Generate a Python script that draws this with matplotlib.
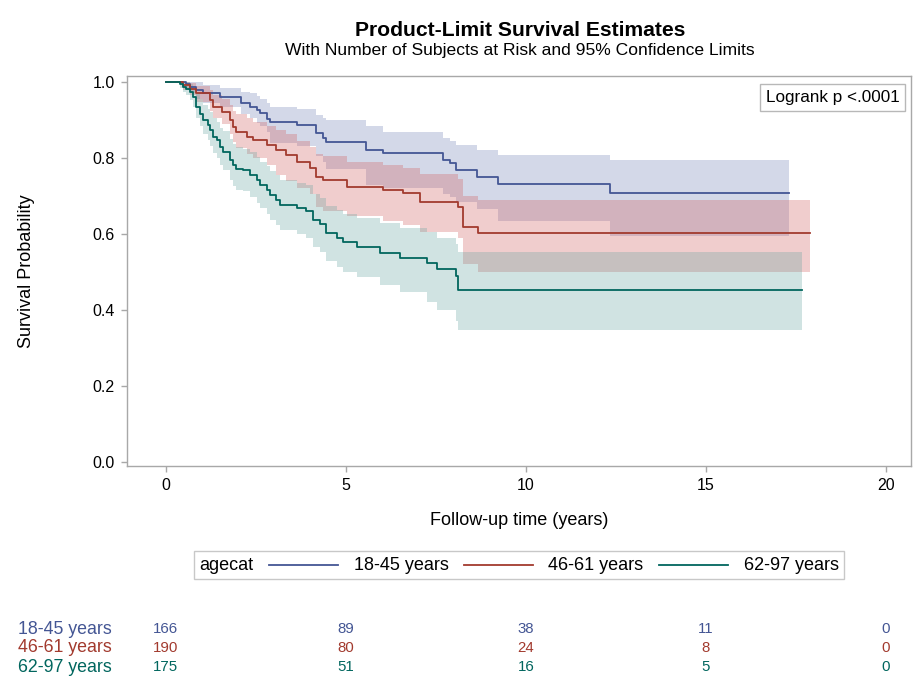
import matplotlib
matplotlib.use("Agg")
import matplotlib.pyplot as plt
from matplotlib.lines import Line2D
from matplotlib.offsetbox import AnchoredOffsetbox, DrawingArea, HPacker, TextArea
from matplotlib.transforms import blended_transform_factory

plt.rcParams["font.family"] = ["Liberation Sans", "DejaVu Sans"]

# Kaplan-Meier estimates with 95% confidence limits, by age category
groups = ["18-45 years", "46-61 years", "62-97 years"]

time_18_45 = [0, 0.55, 0.67, 0.85, 1.04, 1.5, 2.1, 2.33, 2.52, 2.61, 2.8, 2.89, 3.63,
              4.18, 4.37, 4.46, 5.57, 6.04, 7.7, 7.89, 8.07, 8.63, 9.23, 12.33, 17.3]
surv_18_45 = [1.0, 0.994, 0.988, 0.979, 0.970, 0.961, 0.944, 0.935, 0.926, 0.918, 0.904, 0.896, 0.887,
              0.865, 0.852, 0.843, 0.821, 0.812, 0.795, 0.786, 0.768, 0.751, 0.733, 0.707, 0.707]
upper_18_45 = [1.0, 1.0, 1.0, 1.0, 0.992, 0.985, 0.975, 0.97, 0.962, 0.955, 0.945, 0.935, 0.93,
               0.912, 0.905, 0.9, 0.885, 0.869, 0.853, 0.845, 0.834, 0.822, 0.808, 0.795, 0.795]
lower_18_45 = [1.0, 0.98, 0.97, 0.955, 0.945, 0.935, 0.915, 0.905, 0.893, 0.885, 0.868, 0.84, 0.832,
               0.805, 0.79, 0.772, 0.728, 0.722, 0.705, 0.698, 0.685, 0.665, 0.635, 0.595, 0.595]

time_46_61 = [0, 0.48, 0.67, 0.85, 1.22, 1.31, 1.55, 1.78, 1.87, 1.96, 2.24, 2.43, 2.8, 3.07,
              3.35, 3.63, 4.0, 4.18, 4.37, 5.02, 6.04, 6.59, 7.05, 8.12, 8.26, 8.68, 17.9]
surv_46_61 = [1.0, 0.992, 0.983, 0.97, 0.953, 0.935, 0.922, 0.9, 0.882, 0.869, 0.856, 0.847, 0.834, 0.821,
              0.808, 0.79, 0.773, 0.751, 0.742, 0.725, 0.716, 0.707, 0.685, 0.672, 0.619, 0.602, 0.602]
upper_46_61 = [1.0, 1.0, 0.998, 0.99, 0.98, 0.965, 0.955, 0.94, 0.925, 0.915, 0.905, 0.895, 0.885, 0.873,
               0.862, 0.845, 0.83, 0.81, 0.805, 0.79, 0.782, 0.775, 0.758, 0.745, 0.70, 0.689, 0.689]
lower_46_61 = [1.0, 0.98, 0.965, 0.948, 0.925, 0.905, 0.89, 0.862, 0.842, 0.826, 0.81, 0.8, 0.783, 0.755,
               0.74, 0.722, 0.705, 0.672, 0.66, 0.648, 0.635, 0.624, 0.605, 0.59, 0.52, 0.5, 0.5]

time_62_97 = [0, 0.4, 0.48, 0.57, 0.67, 0.76, 0.85, 0.94, 1.04, 1.18, 1.22, 1.31, 1.41, 1.5, 1.59,
              1.78, 1.87, 1.96, 2.15, 2.33, 2.52, 2.61, 2.8, 2.89, 3.07, 3.17, 3.63, 3.9, 4.09, 4.28,
              4.46, 4.74, 4.93, 5.3, 5.94, 6.5, 7.24, 7.52, 8.07, 8.12, 17.66]
surv_62_97 = [1.0, 0.994, 0.988, 0.981, 0.974, 0.961, 0.935, 0.917, 0.9, 0.887, 0.874, 0.856, 0.847, 0.83, 0.817,
              0.795, 0.781, 0.772, 0.768, 0.755, 0.742, 0.729, 0.716, 0.703, 0.69, 0.676, 0.668, 0.66, 0.637, 0.626,
              0.604, 0.59, 0.578, 0.567, 0.551, 0.538, 0.525, 0.507, 0.49, 0.453, 0.453]
upper_62_97 = [1.0, 1.0, 1.0, 1.0, 0.995, 0.99, 0.97, 0.955, 0.94, 0.93, 0.92, 0.905, 0.895, 0.88, 0.87,
               0.85, 0.838, 0.83, 0.825, 0.815, 0.803, 0.79, 0.778, 0.767, 0.755, 0.742, 0.735, 0.728, 0.705, 0.695,
               0.675, 0.663, 0.652, 0.643, 0.628, 0.617, 0.605, 0.59, 0.575, 0.553, 0.553]
lower_62_97 = [1.0, 0.985, 0.975, 0.965, 0.952, 0.935, 0.905, 0.885, 0.862, 0.847, 0.832, 0.812, 0.8, 0.782, 0.768,
               0.742, 0.727, 0.717, 0.712, 0.697, 0.682, 0.668, 0.653, 0.638, 0.625, 0.61, 0.6, 0.59, 0.565, 0.552,
               0.528, 0.513, 0.5, 0.487, 0.465, 0.447, 0.422, 0.4, 0.37, 0.347, 0.347]

# number at risk
risk_times = [0, 5, 10, 15, 20]
at_risk_18_45 = [166, 89, 38, 11, 0]
at_risk_46_61 = [190, 80, 24, 8, 0]
at_risk_62_97 = [175, 51, 16, 5, 0]

line_colors = ["#445694", "#A23A2E", "#01665E"]
band_colors = ["#6F7EB3", "#D05B5B", "#66A5A0"]
frame_gray = "#a8a8a8"

series = [
    (time_18_45, surv_18_45, lower_18_45, upper_18_45, at_risk_18_45),
    (time_46_61, surv_46_61, lower_46_61, upper_46_61, at_risk_46_61),
    (time_62_97, surv_62_97, lower_62_97, upper_62_97, at_risk_62_97),
]

fig = plt.figure(figsize=(9.17, 6.92), dpi=100)
ax = fig.add_axes([0.1385, 0.3266, 0.855, 0.5636])

for (t, s, lo, hi, _), bc in zip(series, band_colors):
    ax.fill_between(t, lo, hi, step="post", color=bc, alpha=0.3, linewidth=0)
for (t, s, lo, hi, _), lc in zip(series, line_colors):
    ax.step(t, s, where="post", color=lc, linewidth=1.3)

ax.set_xlim(-1.08, 20.7)
ax.set_ylim(-0.0105, 1.016)
ax.set_xticks(risk_times)
ax.set_yticks([0.0, 0.2, 0.4, 0.6, 0.8, 1.0])
ax.set_yticklabels([f"{v:.1f}" for v in [0.0, 0.2, 0.4, 0.6, 0.8, 1.0]])
ax.tick_params(direction="out", length=4, width=1, color=frame_gray,
               labelsize=11.5, labelcolor="black", pad=5)
for sp in ax.spines.values():
    sp.set_color(frame_gray)
    sp.set_linewidth(1)

ax.set_xlabel("Follow-up time (years)", fontsize=13, va="center")
ax.xaxis.set_label_coords(0.5, -0.141)
ax.set_ylabel("Survival Probability", fontsize=13, va="center")
ax.yaxis.set_label_coords(-0.1276, 0.5)

ax.text(0.985, 0.963, "Logrank p <.0001", transform=ax.transAxes, ha="right", va="top",
        fontsize=12.3, bbox=dict(boxstyle="square,pad=0.35", fc="white", ec="#b8b8b8", lw=1))

fig.text(0.567, 1 - 30 / 692, "Product-Limit Survival Estimates", ha="center", va="center",
         fontsize=15.2, fontweight="bold")
fig.text(0.567, 1 - 50 / 692, "With Number of Subjects at Risk and 95% Confidence Limits",
         ha="center", va="center", fontsize=12.6)

# legend: inline title followed by the three groups
items = [TextArea("agecat", textprops=dict(fontsize=13))]
for g, lc in zip(groups, line_colors):
    da = DrawingArea(50, 10, 0, 0)
    da.add_artist(Line2D([0, 50], [5, 5], color=lc, linewidth=1.3))
    items.append(da)
    items.append(TextArea(g, textprops=dict(fontsize=13)))
row = HPacker(children=items, align="center", pad=0, sep=11)
legend_box = AnchoredOffsetbox(loc="upper center", child=row, pad=0.4, frameon=True,
                               bbox_to_anchor=(0.566, 1 - 551 / 692),
                               bbox_transform=fig.transFigure, borderpad=0)
legend_box.patch.set_edgecolor("#c8c8c8")
legend_box.patch.set_linewidth(1)
fig.add_artist(legend_box)

# number-at-risk table under the plot, aligned with the time axis
trans = blended_transform_factory(ax.transData, fig.transFigure)
row_y = [1 - 629 / 692, 1 - 648 / 692, 1 - 667 / 692]
for (t, s, lo, hi, risk), g, lc, y in zip(series, groups, line_colors, row_y):
    fig.text(18 / 917, y, g, color=lc, fontsize=12.8, ha="left", va="center")
    for rt, n in zip(risk_times, risk):
        ax.text(rt, y, str(n), transform=trans, color=lc, fontsize=10.8,
                ha="center", va="center", clip_on=False)

fig.savefig("out.png", dpi=100)
